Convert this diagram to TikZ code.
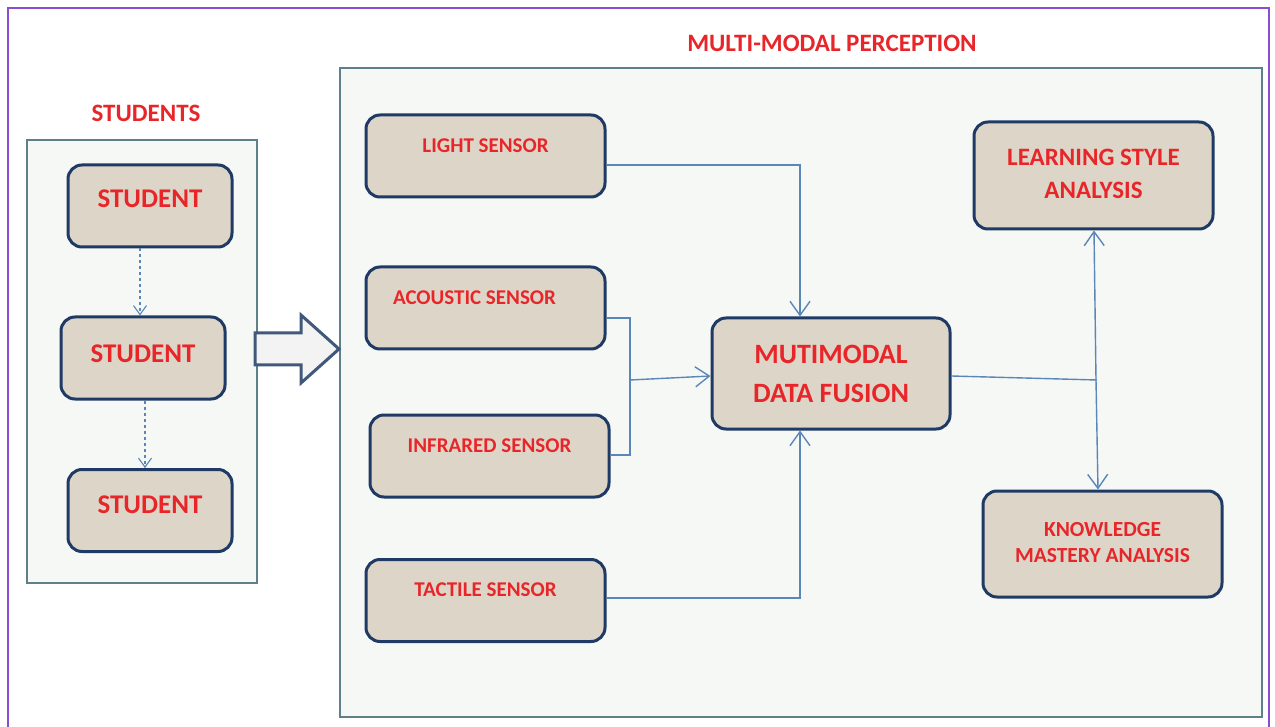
\documentclass[tikz,border=0pt]{standalone}
\usepackage{fontspec}
\setmainfont{Carlito}
\usetikzlibrary{arrows.meta}
\definecolor{frame}{HTML}{8A4FD0}
\definecolor{cont}{HTML}{5E8088}
\definecolor{contfill}{HTML}{F6F8F5}
\definecolor{boxfill}{HTML}{DDD6C8}
\definecolor{boxline}{HTML}{1F3A64}
\definecolor{txt}{HTML}{E8262A}
\definecolor{conn}{HTML}{5B86B8}
\tikzset{
  container/.style={draw=cont, line width=1.5pt, fill=contfill, rectangle, inner sep=0pt},
  rbox/.style={draw=boxline, line width=3pt, fill=boxfill, rounded corners=14pt, inner sep=0pt,
     text=txt, font=\bfseries, align=center},
  title/.style={text=txt, font=\bfseries, inner sep=0pt},
  link/.style={draw=conn, line width=1.4pt},
  tip/.style={-{Straight Barb[length=14pt,width=20pt,line width=1.4pt]}},
  smalltip/.style={-{Straight Barb[length=9pt,width=13pt,line width=1.1pt]}},
}
\begin{document}
\begin{tikzpicture}[x=1pt,y=-1pt]
\useasboundingbox (0,0) rectangle (1275,727);
\fill[white] (0,0) rectangle (1275,727);
% purple frame
\draw[frame, line width=1.6pt] (8,727) -- (8,8) -- (1269,8) -- (1269,727);

% containers
\node[container, minimum width=230pt, minimum height=443pt] (stud) at (142,361.5) {};
\node[container, minimum width=922pt, minimum height=649pt] (mm) at (801,392.5) {};
\node[title, font=\bfseries\fontsize{25}{28}\selectfont] (studt) at (146,113) {STUDENTS};
\node[title, font=\bfseries\fontsize{25}{28}\selectfont] (mmt) at (832,43) {MULTI-MODAL PERCEPTION};

% student boxes
\tikzset{stbox/.style={rbox, minimum width=164pt, minimum height=82pt, font=\bfseries\fontsize{27}{30}\selectfont}}
\node[stbox] (s1) at (150,206) {\raisebox{14pt}{STUDENT}};
\node[stbox] (s2) at (143,358) {\raisebox{9pt}{STUDENT}};
\node[stbox] (s3) at (150,510.5) {\raisebox{12pt}{STUDENT}};
\draw[link, dashed, line width=1.1pt, smalltip] (s1.south -| 140,0) -- (s2.north -| 140,0);
\draw[link, dashed, line width=1.1pt, smalltip] (s2.south -| 145,0) -- (s3.north -| 145,0);

% block arrow
\draw[draw=boxline!85, line width=3pt, fill=contfill!80!gray!40, line join=miter]
  (255,333) -- (301,333) -- (301,315) -- (339,349) -- (301,383) -- (301,365) -- (255,365) -- cycle;

% sensors
\tikzset{sens/.style={rbox, minimum width=239pt, minimum height=82pt, font=\bfseries\fontsize{21}{24}\selectfont}}
\node[sens] (light) at (485.5,156) {\raisebox{21pt}{LIGHT SENSOR}};
\node[sens] (acou) at (485.5,308) {\raisebox{21pt}{ACOUSTIC SENSOR\hspace{22pt}}};
\node[sens] (infra) at (489.5,456) {\raisebox{21pt}{INFRARED SENSOR}};
\node[sens] (tact) at (485.5,600.5) {\raisebox{22pt}{TACTILE SENSOR}};

% fusion
\node[rbox, minimum width=238pt, minimum height=111pt, font=\bfseries\fontsize{28}{39}\selectfont] (fus) at (831,373.5) {MUTIMODAL\\DATA FUSION};

% analysis
\node[rbox, minimum width=239pt, minimum height=107pt, font=\bfseries\fontsize{25}{33}\selectfont] (lsa) at (1093.5,175.5) {\raisebox{2pt}{\begin{tabular}{@{}c@{}}LEARNING STYLE\\[0pt]ANALYSIS\end{tabular}}};
\node[rbox, minimum width=239pt, minimum height=106pt, font=\bfseries\fontsize{21.5}{29}\selectfont] (kma) at (1102.5,544) {\raisebox{18pt}{\begin{tabular}{@{}c@{}}KNOWLEDGE\\[-3pt]MASTERY ANALYSIS\end{tabular}}};

% connectors
\coordinate (j1) at (630,380);
\coordinate (j2) at (1097,380);
\draw[link, tip] (light.east |- 0,165) -- (800,165) -- (fus.north -| 800,0);
\draw[link, tip] (tact.east |- 0,598) -- (800,598) -- (fus.south -| 800,0);
\draw[link] (acou.east |- 0,318) -- (630,318) -- (630,455) -- (infra.east |- 0,455);
\draw[link, tip] (j1) -- (fus.west |- 0,376);
\draw[link] (fus.east |- 0,376) -- (j2);
\draw[link, tip] (1096,380) -- (kma.north -| 1098,0);
\draw[link, tip] (1096,380) -- (lsa.south -| 1094,0);
\end{tikzpicture}
\end{document}
